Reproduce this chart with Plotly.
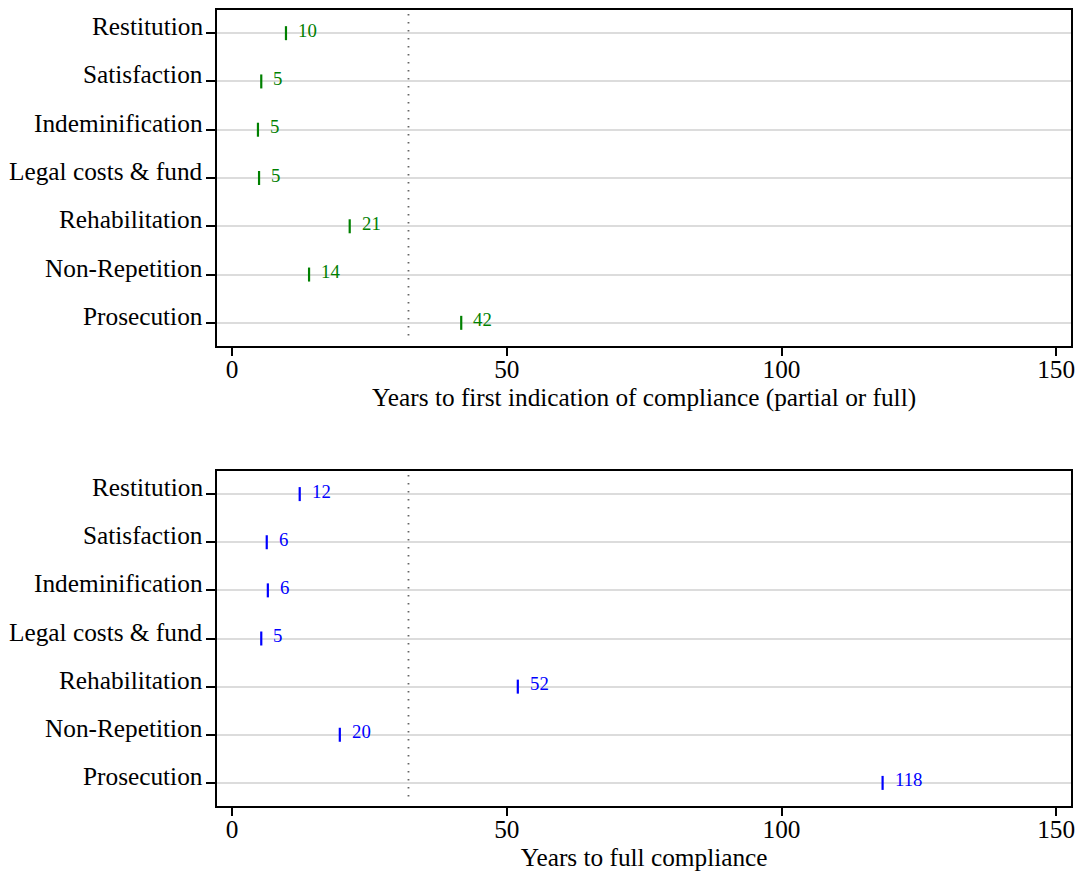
import plotly.graph_objects as go

categories = ["Restitution", "Satisfaction", "Indeminification", "Legal costs & fund",
              "Rehabilitation", "Non-Repetition", "Prosecution"]
first_vals = [9.8, 5.3, 4.7, 4.9, 21.4, 14.0, 41.7]
first_labels = ["10", "5", "5", "5", "21", "14", "42"]
full_vals = [12.3, 6.3, 6.5, 5.3, 52.0, 19.6, 118.4]
full_labels = ["12", "6", "6", "5", "52", "20", "118"]
ref_line = 32.1
x_ticks = [0, 50, 100, 150]
titles = ["Years to first indication of compliance (partial or full)", "Years to full compliance"]

FONT = "Liberation Serif"
BIG = 25.3
ypos = list(range(1, len(categories) + 1))

fig = go.Figure()
panels = [
    (first_vals, first_labels, "#008000", "x", "y"),
    (full_vals, full_labels, "#0000ff", "x2", "y2"),
]
for vals, labs, col, xa, ya in panels:
    fig.add_trace(go.Scatter(
        x=vals, y=ypos, mode="markers",
        marker=dict(symbol="line-ns", size=10, line=dict(width=2.2, color=col), color=col),
        xaxis=xa, yaxis=ya, showlegend=False, cliponaxis=False,
    ))
    for v, lab, yp in zip(vals, labs, ypos):
        fig.add_annotation(
            text=lab, x=v, y=yp, xref=xa, yref=ya, xanchor="left", yanchor="middle",
            xshift=10, yshift=3, showarrow=False,
            font=dict(family=FONT, size=18.8, color=col),
        )

xdom = [218 / 1083, 1075 / 1083]
ydoms = [[1 - 346 / 871, 1 - 10 / 871], [1 - 806 / 871, 1 - 471 / 871]]

axis_common = dict(showline=True, mirror=True, linecolor="black", linewidth=2, zeroline=False)

for i, (xa, ya) in enumerate([("xaxis", "yaxis"), ("xaxis2", "yaxis2")]):
    fig.layout[xa] = dict(
        domain=xdom, range=[-2.72, 152.7], tickvals=x_ticks, ticktext=[str(t) for t in x_ticks],
        ticks="outside", ticklen=8, tickwidth=1.5, tickcolor="black", showgrid=False,
        anchor="y" if i == 0 else "y2", ticklabelstandoff=-8,
        tickfont=dict(family=FONT, size=BIG, color="black"),
        title=dict(text=titles[i], font=dict(family=FONT, size=BIG, color="black"), standoff=2),
        **axis_common,
    )
    fig.layout[ya] = dict(
        domain=ydoms[i], range=[7.48, 0.52], tickvals=ypos, showticklabels=False,
        ticks="outside", ticklen=9, tickwidth=1.5, tickcolor="black",
        showgrid=True, gridcolor="#dcdcdc", gridwidth=2,
        anchor="x" if i == 0 else "x2",
        **axis_common,
    )
    yref = "y" if i == 0 else "y2"
    xref = "x" if i == 0 else "x2"
    for cat, yp in zip(categories, ypos):
        fig.add_annotation(
            text=cat, x=xdom[0], xref="paper", y=yp, yref=yref,
            xanchor="right", yanchor="middle", xshift=-12, yshift=7, showarrow=False,
            font=dict(family=FONT, size=BIG, color="black"),
        )
    fig.add_shape(type="line", x0=ref_line, x1=ref_line, xref=xref,
                  y0=0.988, y1=0.012, yref=f"{yref} domain",
                  line=dict(color="#666666", width=1.8, dash="1.5px,6.5px"))

fig.update_layout(
    width=1083, height=871, margin=dict(l=0, r=0, t=0, b=0),
    paper_bgcolor="white", plot_bgcolor="white",
)

fig.write_html("out.html")
